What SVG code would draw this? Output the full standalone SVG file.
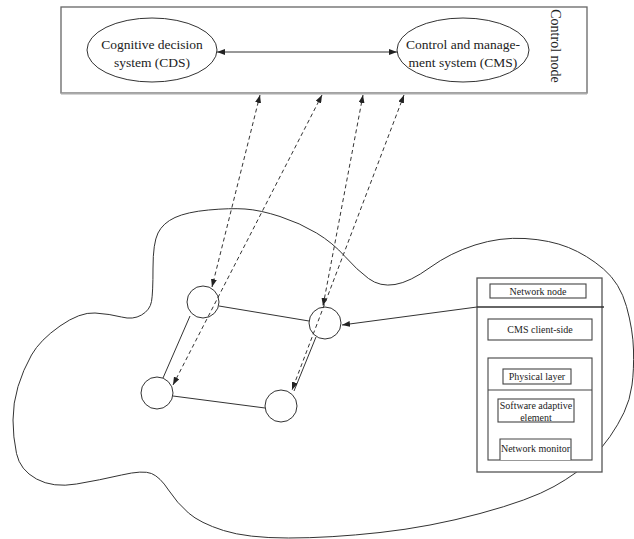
<svg xmlns="http://www.w3.org/2000/svg" width="634" height="539" viewBox="0 0 634 539">
<style>
.t{font-family:"Liberation Serif","Times New Roman",serif;fill:#222}
.big{font-size:14px}
.md{font-size:13.5px}
.sm{font-size:10px}
.ln{stroke:#333;stroke-width:1;fill:none}
.dash{stroke:#333;stroke-width:1;fill:none;stroke-dasharray:4 3}
.bx{fill:#fff;stroke:#555;stroke-width:1.3}
.ib{fill:#fff;stroke:#444;stroke-width:1.1}
.nd{fill:#fff;stroke:#333;stroke-width:1}
</style>
<defs>
<marker id="ah" viewBox="0 0 8 6" refX="8" refY="3" markerWidth="8" markerHeight="6" orient="auto-start-reverse" markerUnits="userSpaceOnUse"><path d="M0,0 L8,3 L0,6 Z" fill="#222"/></marker>
</defs>
<rect width="634" height="539" fill="#fff"/>
<g id="network-area">
<path class="ln" d="M245,209 Q260,210 280,216.5 Q300,223 316.5,233 Q333,243 345,256.5 Q357,270 368.5,278.5 Q380,287 395,284.5 Q410,282 430,267.5 Q450,253 475,245 Q500,237 525,238.5 Q550,240 568.5,247.5 Q587,255 603.5,269 Q620,283 626.5,306.5 Q633,330 633.5,350 Q634,370 632,385 Q630,400 624,412.5 Q618,425 610,436.5 Q602,448 590,460.5 Q578,473 554,486.5 Q530,500 480,513.5 Q430,527 380,532.5 Q330,538 288.5,538 Q247,538 223.5,530.5 Q200,523 188.5,513 Q177,503 168.5,490 Q160,477 151.5,473.5 Q143,470 121.5,475 Q100,480 76.5,484 Q53,488 36.5,479 Q20,470 16.5,453.5 Q13,437 13,420 Q13,403 18,386.5 Q23,370 31.5,355 Q40,340 60,326 Q80,312 95,313 Q110,314 121.5,317 Q133,320 141.5,315 Q150,310 151.5,301.5 Q153,293 153,268 Q153,243 158,233 Q163,223 175,217.5 Q187,212 208.5,210 Q230,208 245,209 Z"/>
</g>
<g id="control-node">
<rect x="61" y="7" width="526" height="86" fill="#fff" stroke="#666" stroke-width="1.3"/>
<line x1="61" y1="93.5" x2="587" y2="93.5" stroke="#aaa" stroke-width="2"/>
<text class="t big" transform="translate(555,46) rotate(90)" text-anchor="middle" dominant-baseline="central">Control node</text>
</g>
<g id="cds">
<ellipse cx="152" cy="50" rx="65" ry="32" class="nd"/>
<text class="t md" x="152" y="48.5" text-anchor="middle">Cognitive decision</text>
<text class="t md" x="152" y="66.5" text-anchor="middle">system (CDS)</text>
</g>
<g id="cms">
<ellipse cx="463" cy="50" rx="66" ry="32" class="nd"/>
<text class="t md" x="463" y="48.5" text-anchor="middle">Control and manage-</text>
<text class="t md" x="463" y="66.5" text-anchor="middle">ment system (CMS)</text>
</g>
<g id="network-node">
<rect class="bx" x="477" y="278" width="125" height="194"/>
<rect class="ib" x="490" y="284" width="96" height="14"/>
<text class="t sm" x="538" y="294.5" text-anchor="middle">Network node</text>
<line x1="477" y1="307" x2="604" y2="307" stroke="#333" stroke-width="1.3"/>
<rect class="ib" x="488" y="319" width="104" height="21"/>
<text class="t sm" x="540" y="333" text-anchor="middle">CMS client-side</text>
<rect class="ib" x="488" y="358" width="104" height="102"/>
<line x1="488" y1="390" x2="592" y2="390" stroke="#444" stroke-width="1.1"/>
<rect class="ib" x="503" y="369" width="68" height="15"/>
<text class="t sm" x="537" y="380" text-anchor="middle">Physical layer</text>
<rect class="ib" x="498" y="399" width="76" height="23"/>
<text class="t sm" x="536" y="408.5" text-anchor="middle">Software adaptive</text>
<text class="t sm" x="536" y="420.5" text-anchor="middle">element</text>
<path class="ib" d="M500,460 V439 H571 V460"/>
<text class="t sm" x="535.5" y="452" text-anchor="middle">Network monitor</text>
</g>
<g id="node-a"><circle class="nd" cx="203" cy="302" r="16"/></g>
<g id="node-b"><circle class="nd" cx="325" cy="323" r="16"/></g>
<g id="node-c"><circle class="nd" cx="157" cy="393" r="16"/></g>
<g id="node-d"><circle class="nd" cx="281" cy="406" r="16"/></g>
<g id="connectors">
<line class="ln" x1="219" y1="306" x2="309" y2="321"/>
<line class="ln" x1="173" y1="396" x2="265" y2="408"/>
<line class="ln" x1="190" y1="316" x2="163" y2="378"/>
<line class="ln" x1="316" y1="337" x2="294" y2="391"/>
<line class="ln" x1="217" y1="52" x2="397" y2="52" marker-start="url(#ah)" marker-end="url(#ah)"/>
<line class="dash" x1="260" y1="95" x2="212" y2="287" marker-start="url(#ah)" marker-end="url(#ah)"/>
<line class="dash" x1="322" y1="95" x2="173" y2="385" marker-start="url(#ah)" marker-end="url(#ah)"/>
<line class="dash" x1="363" y1="95" x2="323" y2="306" marker-start="url(#ah)" marker-end="url(#ah)"/>
<line class="dash" x1="404" y1="95" x2="292" y2="390" marker-start="url(#ah)" marker-end="url(#ah)"/>
<line class="ln" x1="477" y1="307" x2="342" y2="325" marker-end="url(#ah)"/>
</g>
</svg>
